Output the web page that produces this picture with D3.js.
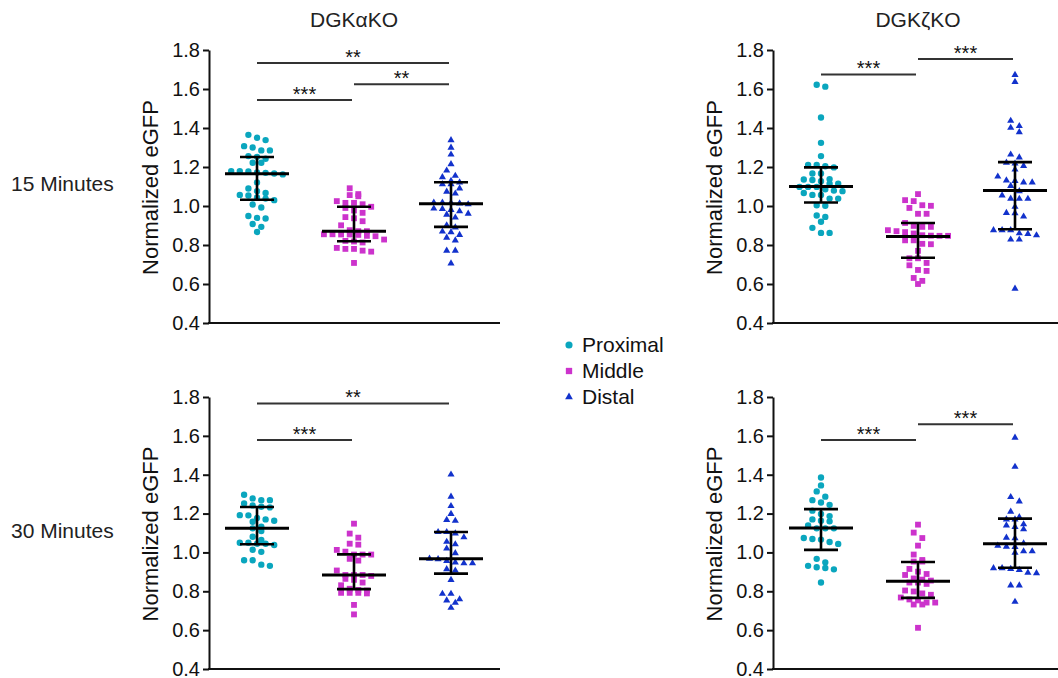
<!DOCTYPE html>
<html>
<head>
<meta charset="utf-8">
<script src="https://cdn.jsdelivr.net/npm/d3@7"></script>
<style>
  body { margin: 0; background: #fff; }
  svg { display: block; font-family: "Liberation Sans", Arial, Helvetica, sans-serif; }
</style>
</head>
<body>
<div id="chart"></div>
<script>
// groups and colours
var groups = ["Proximal", "Middle", "Distal"];
var colors = ["#0aa6be", "#cc33cc", "#1232cc"];

// DGKaKO, 15 min
var a15_prox = [1.365,1.338,1.350,1.307,1.285,1.285,1.300,1.256,1.242,1.222,1.222,1.252,1.179,1.172,1.167,1.162,1.170,1.177,1.179,1.121,1.090,1.076,1.057,1.044,1.038,1.054,1.067,1.030,0.992,1.008,0.939,0.936,0.949,0.908,0.893,0.867];
var a15_mid = [1.091,1.061,1.056,1.050,1.025,1.016,1.016,1.009,0.996,0.977,0.965,0.990,0.937,0.943,0.922,0.901,0.876,0.871,0.854,0.845,0.855,0.855,0.852,0.871,0.847,0.854,0.821,0.813,0.818,0.828,0.780,0.771,0.766,0.780,0.785,0.708];
var a15_dist = [1.338,1.299,1.264,1.215,1.182,1.155,1.148,1.129,1.112,1.112,1.121,1.090,1.064,1.074,1.018,1.013,1.009,1.016,1.018,0.985,0.980,0.987,0.973,0.961,0.956,0.941,0.890,0.869,0.901,0.852,0.824,0.838,0.866,0.771,0.771,0.706];
var a15_med = [1.165, 0.871, 1.011];
var a15_lo = [1.032, 0.819, 0.893];
var a15_hi = [1.251, 0.996, 1.122];
var a15_sig = [[0, 2, 1.733, "**"], [0, 1, 1.543, "***"], [1, 2, 1.625, "**"]];

// DGKzKO, 15 min
var z15_prox = [1.612,1.622,1.454,1.324,1.256,1.204,1.211,1.211,1.198,1.167,1.167,1.136,1.127,1.114,1.114,1.133,1.138,1.086,1.076,1.098,1.098,1.079,1.098,1.038,1.057,1.057,1.067,1.038,1.001,1.004,0.944,0.951,0.919,0.888,0.862,0.862];
var z15_mid = [1.061,1.025,1.030,1.004,1.001,0.990,0.960,0.960,0.913,0.893,0.893,0.898,0.876,0.866,0.850,0.847,0.848,0.847,0.859,0.871,0.824,0.804,0.824,0.806,0.770,0.732,0.732,0.708,0.696,0.672,0.667,0.631,0.600,0.616];
var z15_dist = [1.672,1.636,1.401,1.437,1.410,1.379,1.264,1.249,1.222,1.218,1.206,1.187,1.131,1.121,1.151,1.121,1.129,1.103,1.076,1.054,1.038,1.037,1.037,0.996,0.963,0.965,0.946,0.857,0.876,0.876,0.876,0.860,0.828,0.828,0.850,0.576];
var z15_med = [1.100, 0.843, 1.080];
var z15_lo = [1.018, 0.735, 0.881];
var z15_hi = [1.198, 0.913, 1.225];
var z15_sig = [[0, 1, 1.675, "***"], [1, 2, 1.754, "***"]];

// DGKaKO, 30 min
var a30_prox = [1.297,1.278,1.269,1.252,1.269,1.242,1.235,1.232,1.191,1.170,1.158,1.163,1.177,1.192,1.124,1.110,1.133,1.064,1.081,1.045,1.050,1.050,1.038,1.045,1.014,1.003,0.960,0.960,0.931,0.937];
var a30_mid = [1.148,1.097,1.076,1.045,1.040,1.004,1.013,0.989,0.989,0.989,0.967,0.958,0.907,0.884,0.879,0.884,0.884,0.859,0.831,0.845,0.864,0.813,0.804,0.792,0.789,0.792,0.792,0.807,0.730,0.681];
var a30_dist = [1.401,1.287,1.239,1.198,1.167,1.163,1.105,1.078,1.098,1.105,1.042,1.055,1.020,0.996,0.944,0.968,0.956,0.965,0.944,0.949,0.914,0.907,0.859,0.787,0.787,0.753,0.759,0.741,0.715];
var a30_med = [1.124, 0.884, 0.967];
var a30_lo = [1.042, 0.811, 0.891];
var a30_hi = [1.234, 0.990, 1.105];
var a30_sig = [[0, 2, 1.767, "**"], [0, 1, 1.579, "***"]];

// DGKzKO, 30 min
var z30_prox = [1.386,1.345,1.314,1.287,1.269,1.257,1.245,1.215,1.198,1.187,1.163,1.170,1.160,1.139,1.124,1.124,1.124,1.066,1.074,1.044,1.054,1.069,0.967,0.949,0.931,0.920,0.913,0.924,0.845];
var z30_mid = [1.143,1.102,1.074,1.035,0.989,0.953,0.953,0.961,0.915,0.901,0.884,0.889,0.866,0.855,0.845,0.838,0.845,0.860,0.799,0.782,0.789,0.804,0.758,0.742,0.732,0.732,0.742,0.753,0.768,0.612];
var z30_dist = [1.591,1.441,1.285,1.263,1.210,1.182,1.170,1.170,1.145,1.131,1.119,1.139,1.076,1.073,1.035,1.028,1.047,1.006,0.999,1.006,1.030,0.919,0.915,0.893,0.896,0.910,0.919,0.830,0.830,0.746];
var z30_med = [1.126, 0.852, 1.045];
var z30_lo = [1.013, 0.766, 0.921];
var z30_hi = [1.223, 0.951, 1.174];
var z30_sig = [[0, 1, 1.579, "***"], [1, 2, 1.660, "***"]];

var yTicks = [0.4, 0.6, 0.8, 1.0, 1.2, 1.4, 1.6, 1.8];
var colTitles = ["DGK\u03b1KO", "DGK\u03b6KO"];
var rowTitles = ["15 Minutes", "30 Minutes"];

var W = 1058, H = 678;
var svg = d3.select("#chart").append("svg").attr("width", W).attr("height", H);

var shapes = [d3.symbolCircle, d3.symbolSquare, d3.symbolTriangle];
var sizes = [32, 34, 22];

// prism-like column scatter: bin points by height, spread each row around the centre
function swarm(values, y, step, binH) {
    var sorted = values.slice().sort(function (a, b) { return b - a; });
    var bins = [], cur = null;
    sorted.forEach(function (v) {
        var py = y(v);
        if (!cur || py - cur.y0 > binH) { cur = { y0: py, pts: [] }; bins.push(cur); }
        cur.pts.push(v);
    });
    var out = [];
    bins.forEach(function (b) {
        var n = b.pts.length;
        b.pts.forEach(function (v, i) {
            out.push({ v: v, dx: (i - (n - 1) / 2) * step });
        });
    });
    return out;
}

function panel(opt) {
    var g = svg.append("g");
    var y = d3.scaleLinear().domain([0.4, 1.8]).range([opt.bottom, opt.top]);
    var x = d3.scalePoint().domain(groups).range([opt.axisX + 48, opt.axisX + 242]);

    // y axis
    var ax = g.append("g").attr("transform", "translate(" + opt.axisX + ",0)")
        .call(d3.axisLeft(y).tickValues(yTicks).tickFormat(d3.format(".1f"))
            .tickSize(6).tickSizeOuter(0).tickPadding(3));
    ax.select(".domain").attr("stroke", "#111").attr("stroke-width", 2);
    ax.selectAll(".tick line").attr("stroke", "#111").attr("stroke-width", 2);
    ax.selectAll(".tick text").attr("font-size", 20).attr("fill", "#111")
        .attr("font-family", "'Liberation Sans', Arial, sans-serif");

    // x axis line
    g.append("line").attr("x1", opt.axisX - 1).attr("x2", opt.endX)
        .attr("y1", opt.bottom).attr("y2", opt.bottom)
        .attr("stroke", "#111").attr("stroke-width", 2);

    // y label
    g.append("text")
        .attr("transform", "translate(" + (opt.axisX - 51) + "," + ((opt.top + opt.bottom) / 2 + 1) + ") rotate(-90)")
        .attr("text-anchor", "middle").attr("font-size", 22).attr("fill", "#111")
        .text("Normalized eGFP");

    // points
    opt.series.forEach(function (vals, gi) {
        var pts = swarm(vals, y, 8.6, 6);
        g.append("g").selectAll("path").data(pts).enter().append("path")
            .attr("d", d3.symbol().type(shapes[gi]).size(sizes[gi]))
            .attr("transform", function (d) {
                return "translate(" + (x(groups[gi]) + d.dx) + "," + y(d.v) + ")";
            })
            .attr("fill", colors[gi]);
    });

    // median + IQR bars
    var eb = g.append("g").attr("stroke", "#000");
    groups.forEach(function (name, gi) {
        var cx = x(name);
        eb.append("line").attr("x1", cx).attr("x2", cx)
            .attr("y1", y(opt.hi[gi])).attr("y2", y(opt.lo[gi])).attr("stroke-width", 2.6);
        eb.append("line").attr("x1", cx - 32).attr("x2", cx + 32)
            .attr("y1", y(opt.med[gi])).attr("y2", y(opt.med[gi])).attr("stroke-width", 3);
        [opt.hi[gi], opt.lo[gi]].forEach(function (v) {
            eb.append("line").attr("x1", cx - 17).attr("x2", cx + 17)
                .attr("y1", y(v)).attr("y2", y(v)).attr("stroke-width", 2.6);
        });
    });

    // significance
    opt.sig.forEach(function (s) {
        var x1 = x(groups[s[0]]), x2 = x(groups[s[1]]) - 2;
        g.append("line").attr("x1", x1).attr("x2", x2)
            .attr("y1", y(s[2])).attr("y2", y(s[2]))
            .attr("stroke", "#333").attr("stroke-width", 2);
        g.append("text").attr("x", (x1 + x2) / 2).attr("y", y(s[2]) + 1)
            .attr("text-anchor", "middle").attr("font-size", 20).attr("fill", "#111")
            .text(s[3]);
    });

    return x;
}

var cols = [{ axisX: 209, endX: 500 }, { axisX: 773, endX: 1058 }];
var rows = [{ top: 50, bottom: 323 }, { top: 397, bottom: 669 }];

var specs = [
    [0, 0, [a15_prox, a15_mid, a15_dist], a15_med, a15_lo, a15_hi, a15_sig],
    [0, 1, [z15_prox, z15_mid, z15_dist], z15_med, z15_lo, z15_hi, z15_sig],
    [1, 0, [a30_prox, a30_mid, a30_dist], a30_med, a30_lo, a30_hi, a30_sig],
    [1, 1, [z30_prox, z30_mid, z30_dist], z30_med, z30_lo, z30_hi, z30_sig]
];

var xs = {};
specs.forEach(function (s) {
    var r = rows[s[0]], c = cols[s[1]];
    xs[s[1]] = panel({
        top: r.top, bottom: r.bottom, axisX: c.axisX, endX: c.endX,
        series: s[2], med: s[3], lo: s[4], hi: s[5], sig: s[6]
    });
});

// column titles over the middle group
colTitles.forEach(function (t, i) {
    svg.append("text").attr("x", xs[i]("Middle")).attr("y", 27)
        .attr("text-anchor", "middle").attr("font-size", 21).attr("fill", "#222")
        .text(t);
});

// row titles
rowTitles.forEach(function (t, i) {
    svg.append("text").attr("x", 11).attr("y", i === 0 ? 191 : 538)
        .attr("font-size", 21).attr("fill", "#222").text(t);
});

// legend
var leg = svg.append("g").attr("transform", "translate(569,345)");
groups.forEach(function (name, gi) {
    var row = leg.append("g").attr("transform", "translate(0," + (gi * 26) + ")");
    row.append("path").attr("d", d3.symbol().type(shapes[gi]).size(gi === 2 ? 26 : 40))
        .attr("fill", colors[gi]);
    row.append("text").attr("x", 13).attr("y", 7).attr("font-size", 21)
        .attr("fill", "#111").text(name);
});
</script>
</body>
</html>
